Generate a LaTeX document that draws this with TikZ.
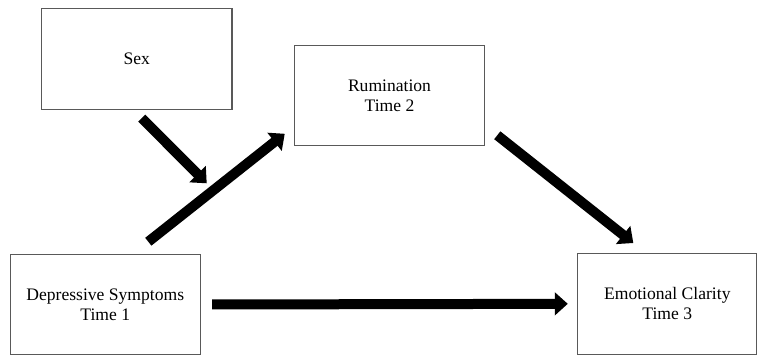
\documentclass[tikz,border=0pt]{standalone}
\usepackage{fontspec}
\setmainfont{Liberation Serif}
\usetikzlibrary{arrows.meta}

\tikzset{
    varbox/.style={draw=black!65, line width=0.6pt, align=center,
        font=\fontsize{10pt}{11.5pt}\selectfont, minimum height=2.01cm},
    pathline/.style={line width=0.2cm, -{Triangle[length=0.26cm,width=0.45cm]}}
}

\begin{document}
\begin{tikzpicture}
\useasboundingbox (0,0) rectangle (15.16,7.12);

% Variables
\node[varbox, minimum width=3.81cm] (sex) at (2.735,5.944) {Sex};
\node[varbox, minimum width=3.79cm] (rum) at (7.79,5.21) {Rumination\\Time 2};
\node[varbox, minimum width=3.81cm] (dep) at (2.106,1.03) {Depressive Symptoms\\Time 1};
\node[varbox, minimum width=3.58cm] (emo) at (13.346,1.044) {Emotional Clarity\\Time 3};

% Moderation point
\coordinate (mod) at (4.134,3.454);

% Paths
\draw[pathline] ([xshift=0.86cm,yshift=0.24cm]dep.north) -- ([xshift=-0.19cm,yshift=0.25cm]rum.south west);
\draw[pathline] ([xshift=0.25cm,yshift=0.22cm]rum.south east) -- ([xshift=-0.68cm,yshift=0.2cm]emo.north);
\draw[pathline, shorten <=0.22cm, shorten >=0.19cm] (dep.east) -- (emo.west);
\draw[pathline] ([xshift=0.1cm,yshift=-0.17cm]sex.south) -- (mod);

\end{tikzpicture}
\end{document}
